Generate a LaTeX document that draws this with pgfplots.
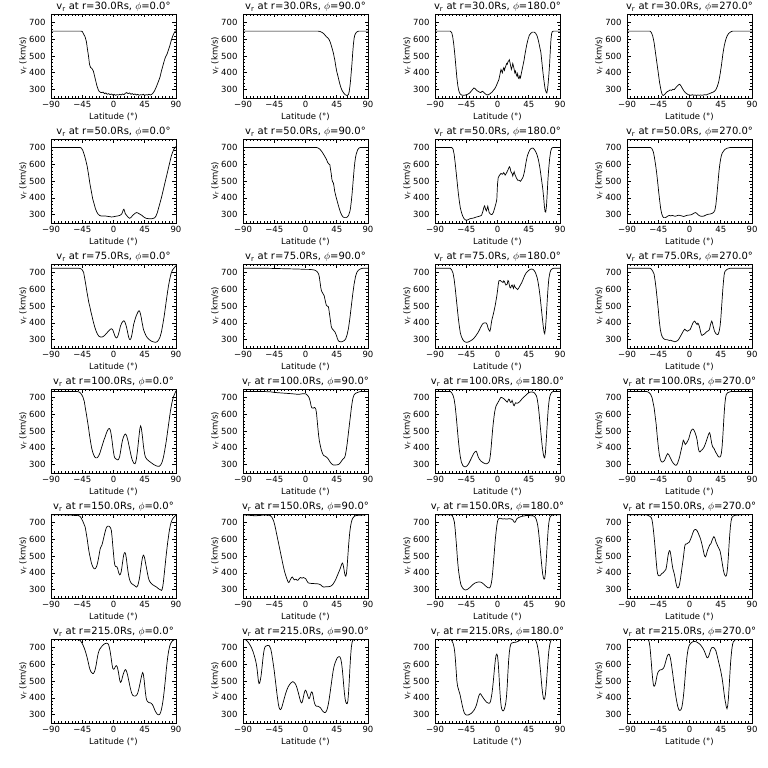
\documentclass[border=0pt]{standalone}
\usepackage{fontspec}
\setmainfont{DejaVu Sans}
\usepackage{pgfplots}
\pgfplotsset{compat=1.18}

\pgfplotsset{
  every axis title/.style={at={(0.5,1)}, anchor=south, yshift=1pt, inner sep=1pt,
    font=\fontsize{10}{11}\selectfont},
  panel/.style={
    scale only axis, width=125pt, height=84pt,
    anchor=north west,
    xmin=-90, xmax=90, ymin=250, ymax=750,
    xtick={-90,-45,0,45,90}, xticklabels={−90,−45,0,45,90},
    ytick={300,400,500,600,700}, yticklabels={300,400,500,600,700},
    minor x tick num=8, minor y tick num=4,
    tick align=inside, xtick pos=both, ytick pos=both,
    major tick length=3.5pt, minor tick length=1.8pt,
    axis line style={line width=0.8pt},
    every tick/.style={black, line width=0.6pt},
    tick label style={font=\fontsize{8.5}{9}\selectfont},
    label style={font=\fontsize{8.5}{9}\selectfont},
    xlabel={Latitude (°)}, ylabel={v\textsubscript{r} (km/s)},
    xlabel style={at={(axis description cs:0.5,-0.22)}, anchor=center},
    ylabel style={at={(axis description cs:-0.225,0.5)}, anchor=center},
    yticklabel style={xshift=-2pt},
  },
  curve/.style={black, line width=0.7pt, mark=none},
}

% #1 column, #2 row, #3 radius, #4 longitude, #5 coordinates
\newcommand\panel[5]{%
  \begin{axis}[panel, at={(51pt+192pt*#1,-14pt-125pt*#2)},
      title={v\textsubscript{r} at r=#3Rs, $\phi$=#4°}]
    \addplot[curve] coordinates {#5};
  \end{axis}}

\begin{document}
\begin{tikzpicture}
\path[use as bounding box] (0,0) rectangle (768pt,-768pt);

% ---------------- r = 30 ----------------
\panel{0}{0}{30.0}{0.0}{(-90,648)(-47,648)(-45,646)(-43,630)(-41,615)(-39,585)(-37.5,540)(-36,500)(-34.6,452)(-33,432)(-31,425)(-29,410)(-27.5,385)(-25.5,350)(-24,325)(-22.5,305)(-21,292)(-19,284)(-17,282)(-15,285)(-13,276)(-11,280)(-9,272)(-7,276)(-5,270)(-3,274)(-1,268)(1,272)(3,266)(5,270)(7,268)(9,272)(11,268)(13,274)(15,270)(17,278)(19,282)(21,276)(23,280)(25,272)(27,276)(29,270)(31,274)(33,268)(35,272)(37,266)(39,270)(41,268)(43,272)(45,266)(47,270)(49,268)(51,272)(53,268)(55,272)(57,280)(59,292)(61,310)(63,330)(65,352)(67,375)(69,410)(71,440)(73,470)(75,495)(77,510)(79,535)(81,560)(83,590)(85,615)(87,635)(89,648)(90,650)}
\panel{1}{0}{30.0}{90.0}{(-90,648)(18,648)(21,646)(24,640)(27,630)(30,615)(32,608)(34,598)(36,578)(38,550)(40,520)(42,480)(43,455)(44,430)(45,408)(47,375)(49,340)(51,312)(53,292)(55,280)(57,270)(59,266)(60.5,265)(62,272)(63,290)(64,320)(65,360)(66,410)(67,460)(68,520)(69,570)(70,605)(71,625)(73,640)(75,646)(77,648)(90,648)}
\panel{2}{0}{30.0}{180.0}{(-90,648)(-68,648)(-66,640)(-64.5,615)(-63,570)(-61.5,510)(-60,440)(-58.5,370)(-57,320)(-55.5,290)(-54,275)(-52,268)(-49,266)(-46,268)(-43,272)(-40,280)(-38,290)(-36,300)(-34,310)(-32,305)(-30,295)(-28,290)(-26,285)(-24,282)(-22,290)(-20,285)(-18,276)(-16,270)(-14,268)(-12,272)(-10,278)(-8,285)(-6,295)(-4,305)(-2,320)(0,340)(2,360)(4,400)(5,420)(6,410)(7,400)(8,420)(9,430)(10,415)(11,430)(12,440)(13,455)(14,450)(15,465)(16,470)(17,478)(18,460)(19,440)(20,420)(21,435)(22,455)(23,440)(24,420)(25,400)(26,410)(27,390)(28,380)(29,395)(30,370)(31,365)(32,380)(33,370)(34,390)(35,410)(36,430)(38,470)(40,520)(42,565)(44,600)(46,625)(48,635)(50,642)(53,642)(55,635)(57,620)(59,590)(61,550)(62.5,520)(64,460)(65.5,400)(67,350)(68.5,305)(70,285)(71,280)(72,300)(73,340)(74,390)(75,450)(76,530)(77,600)(78,635)(79,646)(81,648)(90,648)}
\panel{3}{0}{30.0}{270.0}{(-90,648)(-57,648)(-55,640)(-53,620)(-51,580)(-49,520)(-47,460)(-45,400)(-43,340)(-41,295)(-39.5,272)(-38,265)(-36,270)(-34,280)(-32,288)(-30,292)(-28,298)(-26,295)(-24,302)(-22,300)(-20,310)(-18,320)(-16,328)(-14,332)(-12,320)(-10,305)(-8,292)(-6,282)(-4,276)(-2,270)(0,268)(2,266)(4,270)(6,266)(8,268)(10,265)(12,268)(14,266)(16,268)(18,266)(20,268)(22,270)(24,268)(26,272)(28,275)(30,278)(32,282)(34,285)(36,290)(38,300)(40,318)(42,345)(44,390)(46,445)(48,510)(50,560)(52,595)(54,618)(56,632)(58,640)(60,645)(62,648)(90,648)}

% ---------------- r = 50 ----------------
\panel{0}{1}{50.0}{0.0}{(-90,700)(-48,700)(-46,695)(-44,680)(-42,655)(-40,625)(-38,590)(-36,540)(-34,485)(-32,440)(-30,395)(-28,365)(-26,335)(-24,315)(-22,302)(-20,295)(-18,292)(-15,292)(-12,292)(-9,290)(-6,288)(-3,286)(0,287)(3,290)(6,292)(9,295)(11,300)(12,305)(13,315)(14,328)(15,332)(16,320)(17,305)(19,295)(21,285)(23,278)(25,282)(27,292)(29,300)(31,308)(33,312)(35,310)(37,305)(39,300)(41,295)(43,288)(45,282)(47,278)(50,276)(53,275)(56,276)(59,280)(61,290)(63,310)(65,340)(67,370)(69,400)(71,435)(73,470)(75,505)(77,540)(79,575)(81,610)(83,645)(85,670)(87,690)(89,700)(90,705)}
\panel{1}{1}{50.0}{90.0}{(-90,700)(15,700)(18,697)(21,688)(24,672)(27,652)(30,630)(32,610)(34,600)(35,598)(36,570)(37,545)(38,510)(39,495)(40,490)(41,470)(42,440)(44,405)(46,375)(48,345)(50,318)(52,298)(54,286)(56,282)(58,282)(60,285)(62,295)(64,320)(65,345)(66,380)(67,420)(68,470)(69,520)(70,570)(71,610)(72,640)(73,660)(75,685)(77,696)(79,700)(90,700)}
\panel{2}{1}{50.0}{180.0}{(-90,700)(-66,700)(-64,690)(-62.5,660)(-61,610)(-59.5,550)(-58,490)(-56.5,430)(-55,380)(-53.5,340)(-52,315)(-50,290)(-48,275)(-46,268)(-44,267)(-42,270)(-40,275)(-37,278)(-34,280)(-31,285)(-28,288)(-25,292)(-23,296)(-21,320)(-19.5,345)(-18.5,352)(-17,330)(-16,322)(-15,335)(-14,350)(-13,330)(-12,312)(-10,302)(-8,300)(-6,312)(-4,340)(-2,370)(-1,390)(0,480)(1,520)(3,535)(5,545)(7,540)(9,550)(11,535)(13,548)(15,565)(17,585)(18,580)(19,560)(20,550)(21,545)(22,530)(23,545)(24,555)(25,540)(27,520)(29,505)(31,505)(33,498)(35,510)(37,525)(39,560)(41,610)(43,650)(45,672)(47,688)(49,695)(51,696)(53,688)(55,675)(57,655)(59,625)(61,580)(63,520)(65,460)(66.5,400)(67.5,350)(68.5,318)(69.5,315)(70.5,350)(71.5,420)(72.5,500)(73.5,560)(75,630)(76.5,675)(78,695)(80,700)(90,700)}
\panel{3}{1}{50.0}{270.0}{(-90,700)(-56,700)(-54,692)(-52,672)(-50.5,640)(-49,600)(-47.5,555)(-46,500)(-44.5,440)(-43,385)(-41.5,335)(-40,305)(-38.5,288)(-37,282)(-35,282)(-33,286)(-31,292)(-29,295)(-27,292)(-25,295)(-23,293)(-21,290)(-19,292)(-17,295)(-15,296)(-13,294)(-11,292)(-9,289)(-7,290)(-5,294)(-3,296)(-1,297)(1,298)(3,300)(5,305)(7,310)(9,312)(11,305)(13,297)(15,292)(17,290)(19,290)(21,292)(23,296)(25,300)(27,302)(29,303)(31,305)(33,308)(35,315)(36.5,325)(38,360)(39.5,420)(41,490)(42.5,560)(44,610)(45.5,645)(47,665)(49,678)(51,688)(54,695)(58,699)(62,700)(90,700)}

% ---------------- r = 75 ----------------
\panel{0}{2}{75.0}{0.0}{(-90,725)(-50,725)(-47,722)(-45,715)(-43,700)(-41.5,665)(-40,630)(-38.5,590)(-37,555)(-35.5,520)(-34,495)(-32.5,465)(-31,440)(-29,405)(-27,375)(-25,350)(-23,332)(-21,320)(-19,316)(-17,315)(-15,318)(-13,324)(-11,333)(-9,342)(-7,352)(-5,360)(-3,365)(-1,358)(0,345)(1,335)(2,322)(3,315)(4,310)(5,312)(6,318)(7,330)(8,345)(9,362)(10,380)(12,400)(14,410)(15,412)(16,408)(17,398)(18,385)(19,370)(20,350)(21,330)(22,312)(23,302)(24,300)(25,305)(26,320)(27,340)(28,365)(29,390)(31,420)(33,445)(35,462)(36,470)(37,472)(38,465)(39,450)(40,430)(41,405)(42,385)(43,362)(45,340)(47,322)(49,310)(51,302)(53,295)(55,290)(57,287)(59,285)(61,284)(63,288)(65,298)(67,315)(69,345)(71,390)(73,440)(75,500)(77,560)(79,615)(81,660)(83,695)(85,715)(87,725)(90,740)}
\panel{1}{2}{75.0}{90.0}{(-90,725)(-70,725)(-50,724)(-30,722)(-10,720)(0,718)(5,718)(10,716)(13,714)(15,710)(17,703)(19,690)(20,670)(21,640)(22,610)(23,590)(25,575)(27,560)(28,540)(29,520)(30,505)(31,500)(32,498)(33,495)(34,470)(35,440)(36,410)(37,380)(38,368)(39,362)(40,358)(41,352)(42,348)(43,340)(44,330)(45,318)(46,305)(47,296)(48,290)(50,287)(52,287)(54,290)(56,295)(58,305)(60,330)(62,370)(64,430)(66,500)(68,570)(70,630)(72,675)(74,700)(76,712)(78,718)(80,722)(83,725)(90,725)}
\panel{2}{2}{75.0}{180.0}{(-90,725)(-68,725)(-66,715)(-64,695)(-62.5,660)(-61,610)(-59.5,550)(-58,490)(-56.5,430)(-55,380)(-53.5,340)(-52,318)(-50,300)(-48,290)(-46,285)(-44,284)(-42,286)(-40,290)(-38,295)(-36,300)(-34,308)(-32,318)(-30,330)(-28,342)(-26,358)(-24,375)(-22,390)(-20,398)(-18,400)(-16,398)(-15,390)(-14,375)(-13,362)(-12,355)(-11,350)(-10,365)(-9,395)(-8,420)(-7,435)(-5,470)(-3,510)(-1,560)(0,590)(1,625)(2,650)(4,652)(6,645)(8,640)(9,650)(10,645)(12,625)(14,630)(15,652)(16,648)(17,625)(18,610)(19,608)(20,620)(21,625)(22,615)(23,605)(24,625)(25,615)(27,605)(29,598)(31,610)(33,625)(35,640)(37,660)(39,680)(41,695)(43,705)(45,712)(47,718)(49,720)(51,718)(53,710)(55,695)(57,670)(58.5,640)(60,600)(61.5,550)(63,490)(64.5,430)(66,375)(67,345)(68,335)(69,365)(70,420)(71,490)(72,560)(73,620)(74,665)(75.5,700)(77,715)(79,722)(81,725)(90,725)}
\panel{3}{2}{75.0}{270.0}{(-90,725)(-57,725)(-55,720)(-53,708)(-51,690)(-49.5,650)(-48,600)(-46.5,540)(-45,480)(-43.5,410)(-42,360)(-40.5,330)(-39,315)(-37,305)(-35,300)(-33,300)(-31,298)(-29,295)(-27,296)(-25,292)(-23,290)(-21,287)(-19,290)(-17,295)(-15,305)(-13,320)(-11,335)(-9,350)(-7,362)(-5,355)(-3,350)(-1,355)(1,360)(3,380)(5,400)(7,410)(8,408)(9,400)(10,395)(11,390)(12,398)(13,392)(14,380)(15,365)(16,345)(17,330)(18,325)(20,330)(22,335)(24,345)(26,350)(28,355)(29,365)(30,385)(31,400)(32,410)(33,400)(34,380)(35,365)(36,350)(38,335)(40,330)(41,330)(42,340)(43,355)(44,380)(45,420)(46,480)(47,540)(48,600)(49,650)(50,690)(51,705)(53,715)(55,720)(58,724)(61,725)(90,725)}

% ---------------- r = 100 ----------------
\panel{0}{3}{100.0}{0.0}{(-90,735)(-52,735)(-50,733)(-48,728)(-46,718)(-44,702)(-42,675)(-40.5,635)(-39,600)(-37.5,560)(-36,520)(-34.5,475)(-33,435)(-31.5,400)(-30,375)(-28.5,358)(-27,345)(-25.5,340)(-24,340)(-22.5,345)(-21,355)(-19.5,370)(-18,390)(-16.5,410)(-15,430)(-13.5,450)(-12,465)(-10.5,485)(-9,500)(-7.5,512)(-6,515)(-5,510)(-4,495)(-3,470)(-2,440)(-1,405)(0,375)(1,350)(2,340)(3,335)(4,333)(5,330)(6,328)(7,330)(8,338)(9,350)(10,375)(11,400)(12,425)(13,445)(14,460)(15,470)(16,478)(17,482)(18,478)(19,470)(20,455)(21,440)(22,420)(23,400)(24,380)(25,360)(26,342)(27,328)(28,318)(29,310)(30,306)(31,305)(32,315)(33,335)(34,365)(35,400)(36,440)(37,480)(38,515)(39,530)(40,520)(41,490)(42,455)(43,415)(44,385)(45,360)(46,345)(48,332)(50,325)(52,318)(54,312)(56,306)(58,300)(60,296)(62,292)(64,290)(66,290)(68,298)(70,315)(72,345)(74,390)(76,440)(78,500)(80,560)(82,620)(84,665)(86,700)(88,720)(90,740)}
\panel{1}{3}{100.0}{90.0}{(-90,735)(-60,735)(-50,733)(-45,730)(-40,728)(-30,725)(-20,722)(-15,720)(-10,718)(-7,720)(-4,722)(-1,722)(1,720)(3,712)(5,700)(6,688)(7,672)(8,650)(9,638)(11,636)(13,640)(14,636)(15,628)(16,600)(17,555)(18,510)(19,470)(20,440)(21,420)(22,400)(23,385)(24,372)(25,362)(26,355)(28,350)(30,345)(32,338)(34,325)(36,312)(38,303)(40,298)(42,298)(44,298)(46,299)(48,302)(50,310)(52,322)(54,333)(56,340)(57,350)(58,370)(59,395)(60,425)(61,460)(62,495)(63,530)(64,565)(65,600)(66,635)(67,665)(68,690)(69,705)(70,715)(72,724)(74,728)(76,731)(78,734)(80,735)(90,735)}
\panel{2}{3}{100.0}{180.0}{(-90,735)(-68,735)(-66,728)(-64,712)(-62.5,690)(-61,650)(-59.5,590)(-58,520)(-56.5,450)(-55,390)(-53.5,345)(-52,315)(-50,295)(-48,288)(-46,287)(-44,292)(-42,302)(-40,318)(-38,335)(-36,352)(-34,368)(-32,378)(-31,380)(-30,375)(-29,362)(-28,348)(-26,332)(-24,322)(-22,315)(-20,310)(-18,306)(-16,305)(-14,308)(-12,318)(-11,335)(-10,365)(-9,410)(-8,460)(-7,510)(-6,550)(-5,585)(-4,615)(-3,635)(-2,650)(0,665)(2,680)(4,695)(5,700)(7,698)(9,692)(11,685)(13,675)(14,672)(15,680)(16,690)(17,688)(18,675)(19,670)(20,672)(21,682)(22,670)(23,655)(24,650)(25,660)(26,668)(28,665)(30,668)(32,675)(34,685)(36,695)(38,702)(40,710)(42,718)(44,725)(46,730)(48,732)(50,732)(52,730)(54,722)(56,710)(57,695)(58,670)(59,640)(60,600)(61,555)(62,510)(63,465)(64,425)(65,390)(66,362)(67,345)(68,340)(69,370)(70,430)(71,500)(72,570)(73,630)(74,670)(75,700)(76.5,720)(78,730)(80,735)(90,735)}
\panel{3}{3}{100.0}{270.0}{(-90,735)(-62,735)(-60,733)(-58,728)(-56,718)(-54,700)(-52.5,670)(-51,640)(-49.5,590)(-48,540)(-46.5,470)(-45,410)(-43.5,360)(-42,330)(-40.5,318)(-39,315)(-37.5,318)(-36,325)(-34.5,340)(-33,355)(-31.5,365)(-30,360)(-28.5,348)(-27,335)(-25.5,322)(-24,312)(-22,302)(-20,296)(-18.5,298)(-17,310)(-15.5,328)(-14,350)(-12.5,378)(-11,405)(-10,425)(-9,445)(-8,440)(-7,428)(-6,420)(-5,425)(-4,430)(-3,438)(-2,445)(-1,455)(0,470)(1,485)(2,498)(3,505)(4,510)(5,512)(6,508)(7,500)(8,490)(9,478)(10,465)(11,445)(12,415)(13,390)(14,378)(15,375)(16,380)(17,385)(18,388)(19,392)(20,398)(21,405)(22,415)(23,425)(24,438)(25,450)(26,462)(27,475)(28,485)(29,490)(30,475)(31,450)(32,425)(33,410)(34,402)(35,398)(36,390)(37,380)(38,372)(39,365)(40,358)(41,350)(42,346)(43,345)(44,346)(45,352)(46,370)(47,410)(48,470)(49,540)(50,610)(51,665)(52,700)(53,718)(55,728)(58,733)(60,735)(90,735)}

% ---------------- r = 150 ----------------
\panel{0}{4}{150.0}{0.0}{(-90,745)(-70,745)(-62,744)(-58,742)(-54,741)(-50,740)(-48,735)(-46,722)(-44,705)(-42,685)(-41,675)(-40,655)(-39,630)(-38,605)(-37,575)(-36,545)(-35,520)(-34,500)(-33,480)(-32,462)(-31,448)(-30,438)(-29,430)(-28,425)(-27,424)(-26,426)(-25,432)(-24,442)(-23,458)(-22,478)(-21,500)(-20,525)(-19,545)(-18,555)(-17,562)(-16,575)(-15,592)(-14,610)(-13,628)(-12,645)(-11,660)(-10,670)(-9,676)(-8,678)(-7,678)(-6,676)(-5,672)(-4,665)(-3,650)(-2,610)(-1,560)(0,515)(1,470)(2,445)(3,438)(4,437)(5,435)(6,425)(7,408)(8,395)(9,388)(10,392)(11,405)(12,430)(13,460)(14,490)(15,512)(16,520)(17,518)(18,500)(19,470)(20,435)(21,405)(22,380)(23,362)(24,350)(25,342)(26,336)(28,330)(30,325)(32,318)(33,315)(34,318)(35,325)(36,340)(37,360)(38,385)(39,415)(40,445)(41,475)(42,495)(43,505)(44,500)(45,485)(46,462)(47,440)(48,418)(49,395)(50,375)(51,360)(52,350)(54,338)(56,330)(58,325)(60,320)(62,315)(64,308)(66,302)(68,298)(69,295)(70,300)(71,320)(72,350)(73,390)(74,430)(75,470)(76,510)(77,545)(78,580)(79,610)(80,640)(81,665)(82,685)(83,700)(84,712)(85,720)(86,726)(88,735)(90,745)}
\panel{1}{4}{150.0}{90.0}{(-90,745)(-85,744)(-80,742)(-75,740)(-70,740)(-65,742)(-60,744)(-55,743)(-52,742)(-50,738)(-48,728)(-46,710)(-44,680)(-42,640)(-40,600)(-38,560)(-36,520)(-34,480)(-32,440)(-30,405)(-28,378)(-26,355)(-25,345)(-24,342)(-23,348)(-22,358)(-21,365)(-20,372)(-19,375)(-18,370)(-17,362)(-16,358)(-15,360)(-14,362)(-13,360)(-12,356)(-11,356)(-10,360)(-9,366)(-8,370)(-7,372)(-6,370)(-5,368)(-4,370)(-3,372)(-2,370)(-1,368)(0,366)(1,360)(2,352)(3,345)(4,340)(6,338)(8,337)(10,336)(12,336)(14,335)(16,335)(18,334)(20,332)(22,328)(24,320)(26,315)(28,316)(30,317)(32,317)(34,318)(36,320)(38,325)(40,335)(42,348)(44,365)(46,385)(48,405)(50,425)(52,450)(53,458)(54,452)(55,430)(56,405)(57,385)(58,380)(59,395)(60,440)(61,500)(62,560)(63,610)(64,650)(65,680)(66,700)(67,715)(68,725)(70,735)(72,740)(75,742)(80,743)(85,745)(90,748)}
\panel{2}{4}{150.0}{180.0}{(-90,745)(-67,745)(-65,740)(-63.5,725)(-62,700)(-61,660)(-60,610)(-59,560)(-58,500)(-57,450)(-56,410)(-55,380)(-54,355)(-53,335)(-52,322)(-50,308)(-48,300)(-46,298)(-44,300)(-42,305)(-40,312)(-38,320)(-36,328)(-34,335)(-32,340)(-30,343)(-28,345)(-26,346)(-24,344)(-22,340)(-20,333)(-18,325)(-16,318)(-14,312)(-12,310)(-11,312)(-10,320)(-9,335)(-8,360)(-7,400)(-6,450)(-5,500)(-4,555)(-3,605)(-2,645)(-1,680)(0,705)(1,718)(2,723)(4,725)(6,722)(8,720)(10,722)(12,720)(14,720)(16,722)(18,722)(20,720)(22,715)(23,708)(24,702)(25,700)(26,705)(27,715)(28,722)(30,728)(32,732)(34,735)(36,737)(38,738)(40,740)(42,741)(44,741)(46,741)(48,740)(50,740)(52,738)(54,732)(55,725)(56,715)(57,700)(58,680)(59,650)(60,610)(61,565)(62,520)(63,475)(64,432)(65,395)(66,372)(67,362)(68,365)(69,400)(70,460)(71,530)(72,600)(73,660)(74,700)(75,722)(76,735)(78,742)(80,745)(90,745)}
\panel{3}{4}{150.0}{270.0}{(-90,745)(-62,745)(-60,742)(-58,738)(-56,733)(-55,728)(-54,715)(-53,690)(-52,655)(-51,615)(-50,570)(-49,520)(-48,470)(-47,425)(-46,395)(-45,385)(-44,382)(-43,382)(-42,385)(-41,390)(-40,395)(-39,398)(-38,400)(-37,405)(-36,410)(-35,415)(-34,420)(-33,440)(-32,470)(-31,500)(-30,520)(-29,532)(-28,530)(-27,510)(-26,480)(-25,450)(-24,425)(-23,410)(-22,395)(-21,375)(-20,350)(-19,330)(-18,315)(-17,310)(-16,312)(-15,322)(-14,340)(-13,365)(-12,395)(-11,425)(-10,455)(-9,485)(-8,520)(-7,555)(-6,570)(-5,572)(-4,572)(-3,575)(-2,578)(-1,580)(0,585)(1,595)(2,605)(3,615)(4,628)(5,640)(6,650)(7,655)(8,658)(9,658)(10,655)(11,650)(12,642)(13,632)(14,622)(15,612)(16,600)(17,585)(18,568)(19,550)(20,530)(21,510)(22,498)(23,495)(24,505)(25,520)(26,535)(27,545)(28,555)(29,565)(31,575)(33,600)(35,615)(36,612)(37,600)(38,585)(40,565)(42,548)(44,530)(45,510)(46,485)(47,460)(48,435)(49,412)(50,395)(51,385)(52,380)(53,382)(54,400)(55,440)(56,500)(57,570)(58,630)(59,680)(60,710)(61,728)(63,738)(66,742)(70,745)(90,748)}

% ---------------- r = 215 ----------------
\panel{0}{5}{215.0}{0.0}{(-90,750)(-60,750)(-56,749)(-52,748)(-50,746)(-48,742)(-46,730)(-44,715)(-42,695)(-40,670)(-38,640)(-36,605)(-35,585)(-34,570)(-33,560)(-32,552)(-31,548)(-30,545)(-29,545)(-28,550)(-27,560)(-26,575)(-25,595)(-24,620)(-23,645)(-22,665)(-21,678)(-20,688)(-18,700)(-16,710)(-14,718)(-12,723)(-10,725)(-8,722)(-7,715)(-6,700)(-5,680)(-4,655)(-3,625)(-2,595)(-1,575)(0,570)(1,572)(2,580)(3,588)(4,592)(5,588)(6,575)(7,555)(8,530)(9,505)(10,492)(11,495)(12,508)(13,525)(14,540)(15,552)(16,562)(17,568)(18,565)(19,555)(20,540)(21,522)(22,502)(23,482)(24,462)(25,445)(26,430)(27,420)(28,414)(29,412)(30,410)(31,410)(32,412)(33,415)(34,420)(35,430)(36,445)(37,462)(38,482)(39,502)(40,522)(41,540)(42,550)(43,540)(44,510)(45,470)(46,430)(47,400)(48,385)(49,378)(50,374)(51,372)(52,370)(53,370)(54,368)(55,365)(56,360)(57,352)(58,342)(59,332)(60,322)(61,315)(62,308)(63,303)(64,300)(65,299)(66,300)(67,305)(68,315)(69,330)(70,350)(71,375)(72,405)(73,440)(74,480)(75,520)(76,565)(77,605)(78,640)(79,668)(80,690)(81,708)(82,720)(83,728)(84,735)(86,742)(88,747)(90,750)}
\panel{1}{5}{215.0}{90.0}{(-90,752)(-88,750)(-86,745)(-84,738)(-82,728)(-80,715)(-78,700)(-76,680)(-74,655)(-72,625)(-71,605)(-70,580)(-69,545)(-68,505)(-67,485)(-66,488)(-65,505)(-64,530)(-63,565)(-62,605)(-61,645)(-60,675)(-59,695)(-58,705)(-56,710)(-54,712)(-53,712)(-52,708)(-51,700)(-50,690)(-49,670)(-48,645)(-47,618)(-46,590)(-45,560)(-44,525)(-43,490)(-42,455)(-41,420)(-40,390)(-39,360)(-38,342)(-37,332)(-36,330)(-35,335)(-34,345)(-33,360)(-32,375)(-31,390)(-30,405)(-29,420)(-28,432)(-27,445)(-26,455)(-25,465)(-24,472)(-23,478)(-22,484)(-21,488)(-20,492)(-19,495)(-18,495)(-17,494)(-16,490)(-15,485)(-14,478)(-13,468)(-12,455)(-11,440)(-10,425)(-9,408)(-8,392)(-7,378)(-6,370)(-5,372)(-4,385)(-3,405)(-2,425)(-1,440)(0,445)(1,440)(2,428)(3,415)(4,402)(5,395)(6,400)(7,415)(8,430)(9,435)(10,430)(11,410)(12,385)(13,368)(14,358)(15,352)(16,350)(17,350)(18,350)(19,348)(20,345)(21,342)(22,338)(23,332)(24,325)(25,320)(26,316)(27,313)(28,312)(29,314)(30,320)(31,330)(32,345)(33,365)(34,390)(35,418)(36,448)(37,478)(38,508)(39,538)(40,565)(41,585)(42,600)(43,612)(44,622)(45,632)(46,640)(47,642)(48,645)(49,645)(50,640)(51,628)(52,605)(53,570)(54,525)(55,475)(56,430)(57,395)(58,375)(59,366)(60,365)(61,380)(62,430)(63,500)(64,580)(65,650)(66,700)(67,728)(68,742)(70,748)(72,750)(90,750)}
\panel{2}{5}{215.0}{180.0}{(-90,750)(-68,750)(-66,742)(-64,725)(-62.5,700)(-61.5,670)(-60.5,620)(-59.5,560)(-58.5,500)(-57.5,470)(-56.5,455)(-55.5,440)(-54,420)(-53,400)(-52,380)(-51,360)(-50,342)(-49,325)(-48,312)(-47,305)(-46,300)(-45,298)(-44,297)(-42,298)(-40,302)(-38,307)(-36,315)(-34,325)(-32,340)(-31,350)(-30,362)(-29,378)(-28,395)(-27,410)(-26,420)(-25,425)(-24,422)(-23,415)(-22,408)(-21,402)(-20,396)(-19,390)(-18,385)(-17,380)(-16,375)(-15,372)(-14,370)(-13,368)(-12,368)(-11,370)(-10,380)(-9,400)(-8,425)(-7,460)(-6,500)(-5,545)(-4,590)(-3,630)(-2,655)(-1,660)(0,650)(1,610)(2,545)(3,470)(4,405)(5,360)(6,335)(7,325)(8,322)(9,325)(10,335)(11,350)(12,372)(13,410)(14,470)(15,550)(16,620)(17,670)(18,700)(19,718)(20,725)(22,728)(24,730)(26,731)(28,733)(30,737)(32,742)(34,746)(36,749)(38,750)(52,750)(54,748)(55,742)(56,732)(57,718)(58,698)(59,672)(60,640)(61,600)(62,555)(63,508)(64,462)(65,425)(66,400)(67,390)(68,395)(69,420)(70,465)(71,520)(72,580)(73,635)(74,680)(75,710)(76,730)(77,742)(78,748)(80,750)(90,750)}
\panel{3}{5}{215.0}{270.0}{(-90,750)(-60,750)(-59,745)(-58,730)(-57,705)(-56,660)(-55,610)(-54,555)(-53,510)(-52,478)(-51,468)(-50,472)(-49,485)(-48,505)(-47,528)(-46,545)(-45,555)(-44,560)(-43,565)(-42,566)(-41,567)(-40,568)(-39,570)(-38,574)(-37,580)(-36,590)(-35,605)(-34,620)(-33,635)(-32,648)(-31,656)(-30,660)(-29,658)(-28,645)(-27,625)(-26,598)(-25,568)(-24,538)(-23,505)(-22,475)(-21,445)(-20,418)(-19,392)(-18,370)(-17,350)(-16,336)(-15,328)(-14,325)(-13,326)(-12,332)(-11,345)(-10,368)(-9,400)(-8,440)(-7,488)(-6,540)(-5,590)(-4,632)(-3,665)(-2,690)(-1,705)(0,715)(2,725)(4,732)(6,735)(8,735)(10,733)(12,728)(14,722)(16,714)(18,703)(20,690)(22,672)(24,650)(25,640)(26,638)(27,642)(28,652)(29,665)(30,680)(31,690)(32,698)(34,700)(36,695)(38,680)(40,648)(41,630)(43,595)(45,560)(47,515)(48.5,470)(50,420)(51,390)(52,370)(53,345)(54,335)(55,352)(56,395)(57,460)(58,530)(59,600)(60,650)(61,690)(62,718)(63,732)(65,742)(67,748)(70,750)(90,750)}
\end{tikzpicture}
\end{document}
